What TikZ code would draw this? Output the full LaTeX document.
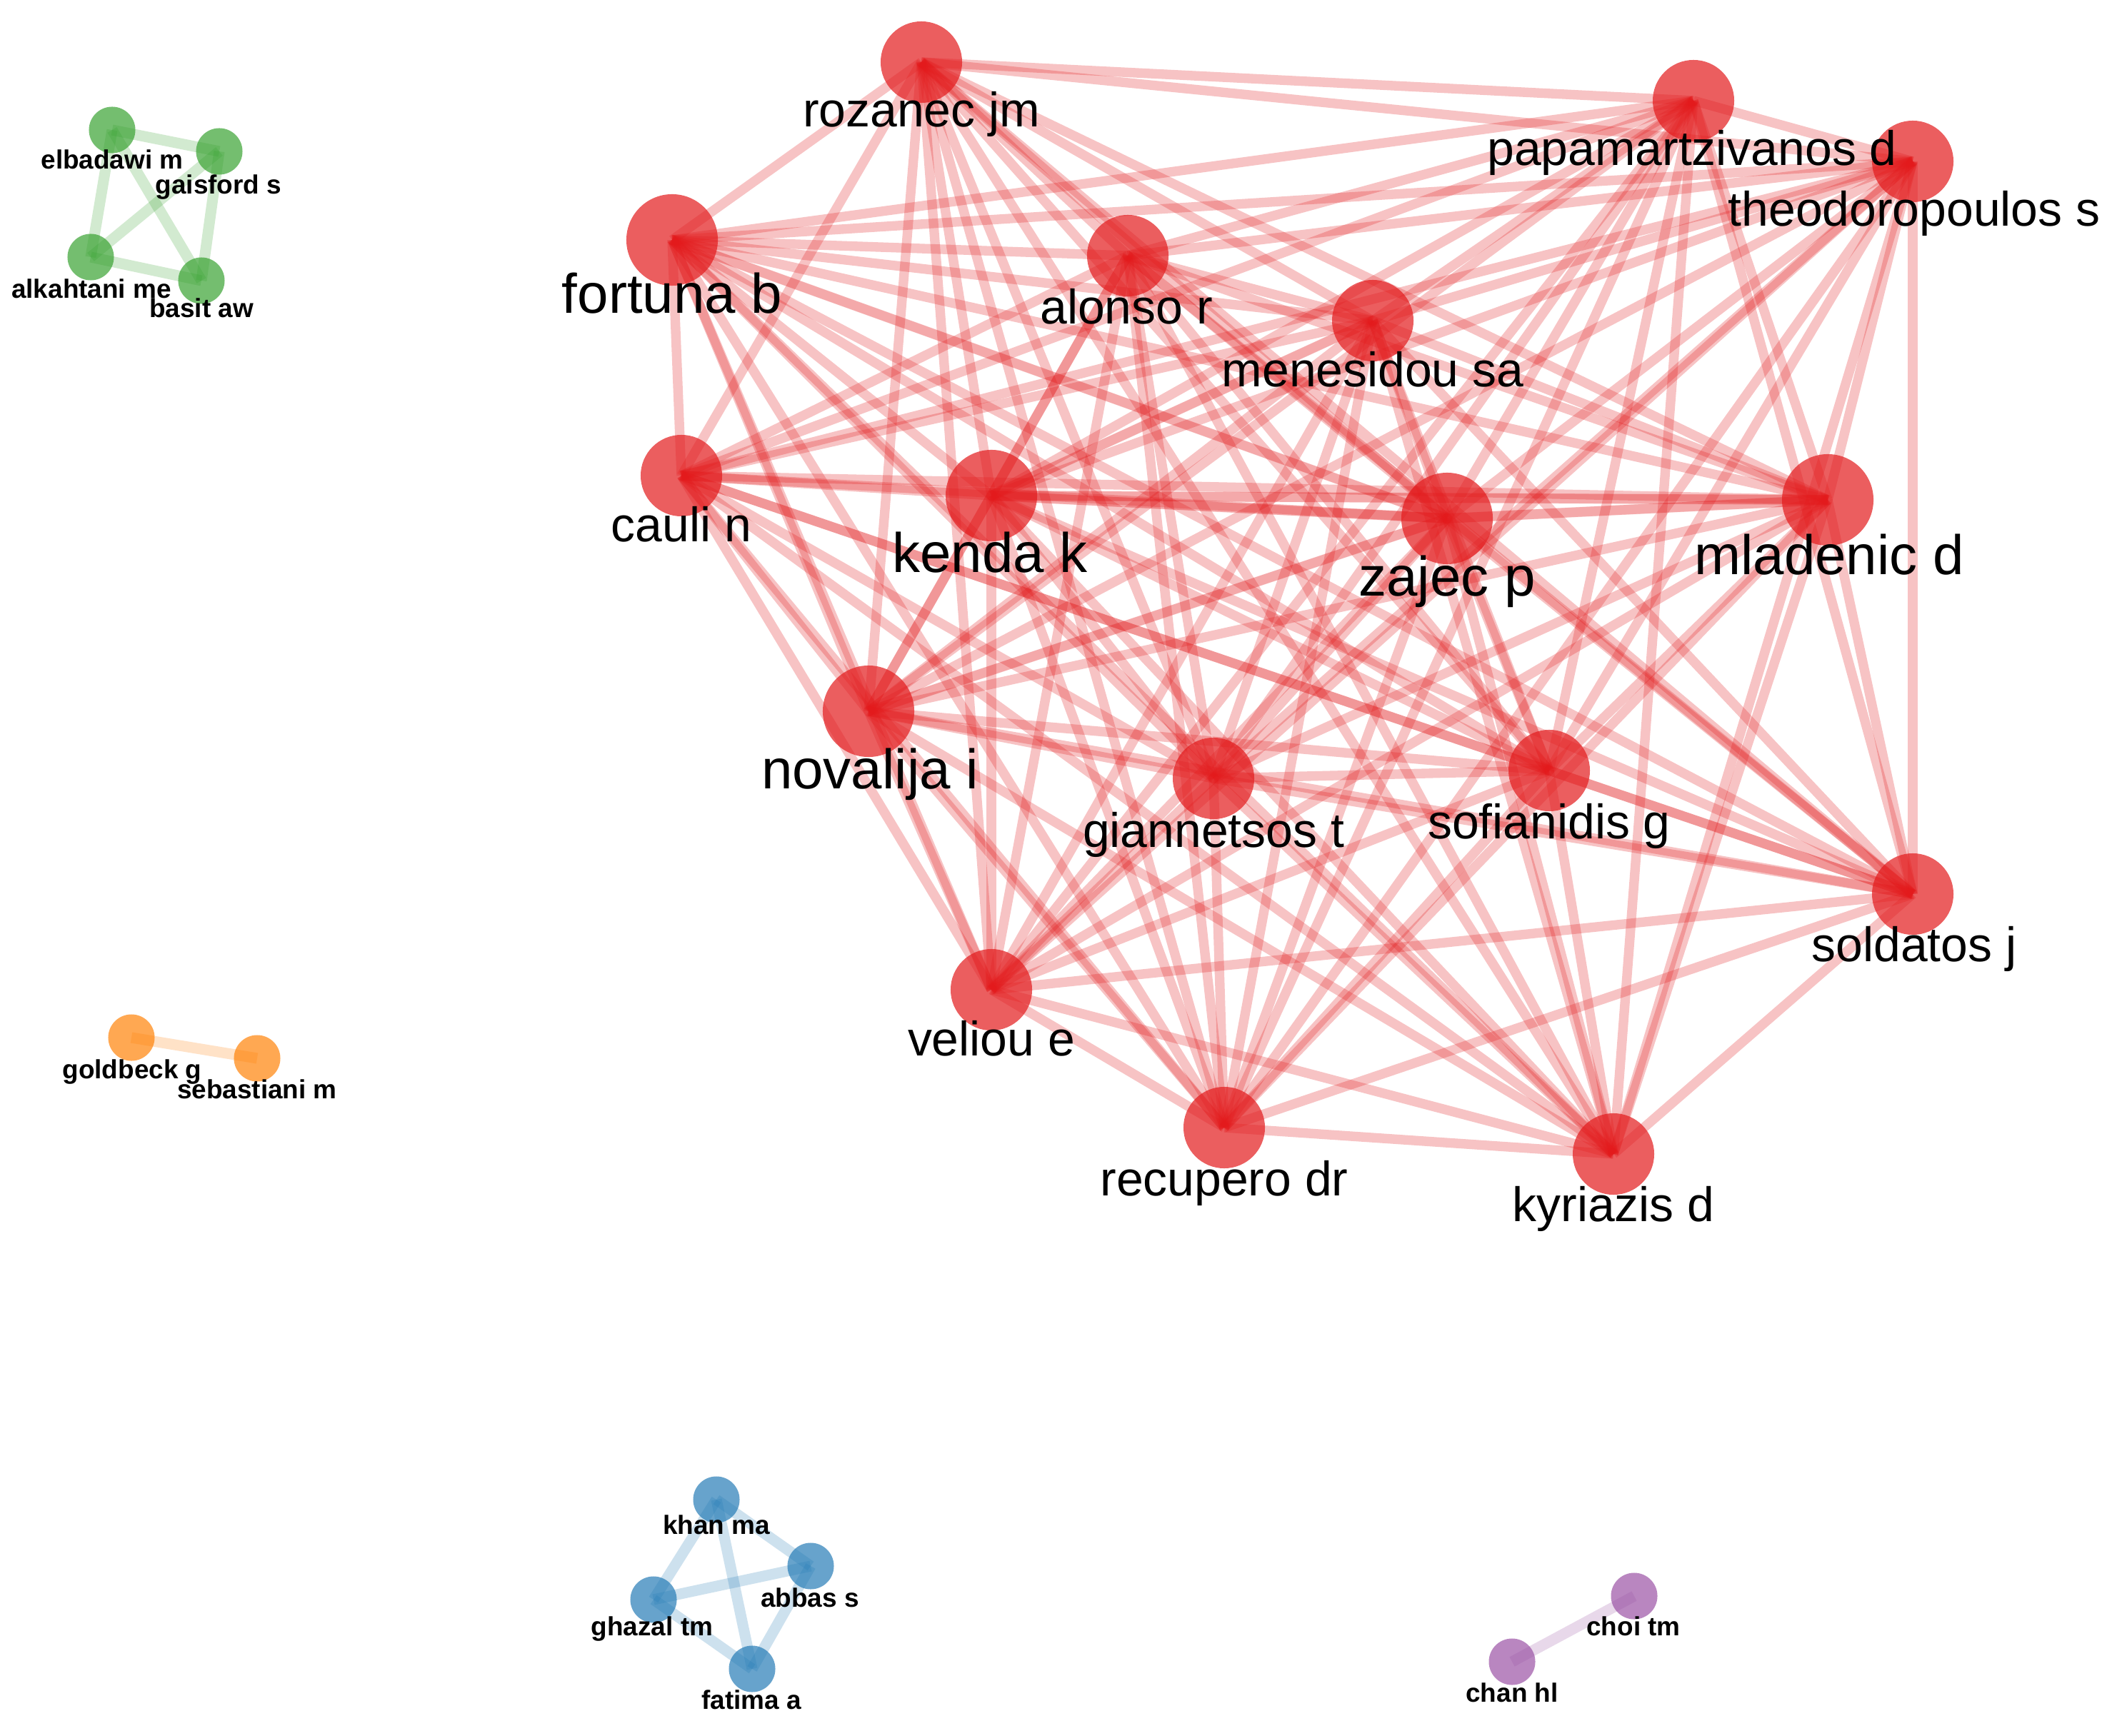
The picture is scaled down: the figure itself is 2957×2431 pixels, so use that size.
\documentclass[tikz,border=0pt]{standalone}
\usepackage{fontspec}
\setmainfont{Liberation Sans}
\definecolor{cred}{RGB}{227,26,28}
\definecolor{cgreen}{RGB}{51,160,44}
\definecolor{corange}{RGB}{255,127,0}
\definecolor{cblue}{RGB}{31,120,180}
\definecolor{cpurple}{RGB}{152,78,163}
\pgfdeclarelayer{bg}
\pgfdeclarelayer{paper}
\pgfsetlayers{paper,bg,main}
\tikzset{
  redn/.style={circle, fill=cred, fill opacity=0.7, minimum size=1.14cm, inner sep=0pt},
  bigred/.style={redn, minimum size=1.28cm},
  smalln/.style={circle, fill=#1, fill opacity=0.68, minimum size=0.65cm, inner sep=0pt},
  redlink/.style={draw=cred, draw opacity=0.26, line width=3.8pt},
  heavylink/.style={draw=cred, draw opacity=0.15, line width=4pt},
  smalllink/.style={draw=#1, draw opacity=0.22, line width=4.3pt},
  lab/.style={anchor=base, inner sep=0pt, font=\fontsize{19.3}{21}\selectfont},
  biglab/.style={anchor=base, inner sep=0pt, font=\fontsize{22.2}{24}\selectfont},
  smalllab/.style={anchor=base, inner sep=0pt, font=\bfseries\fontsize{10.5}{12}\selectfont},
}
\begin{document}
\begin{tikzpicture}[x=0.01cm, y=-0.01cm]
\begin{pgfonlayer}{paper}
\fill[white] (0,0) rectangle (2957,2431);
\end{pgfonlayer}
\useasboundingbox (0,0) rectangle (2957,2431);

% ---- red cluster nodes
\node[redn]   (rozanec)   at (1290,  87) {};
\node[redn]   (papamart)  at (2371, 141) {};
\node[redn]   (theodoro)  at (2678, 226) {};
\node[bigred] (fortuna)   at ( 941, 336) {};
\node[redn]   (alonso)    at (1579, 358) {};
\node[redn]   (menesidou) at (1922, 449) {};
\node[redn]   (cauli)     at ( 954, 666) {};
\node[bigred] (kenda)     at (1388, 694) {};
\node[bigred] (zajec)     at (2026, 726) {};
\node[bigred] (mladenic)  at (2559, 700) {};
\node[bigred] (novalija)  at (1216, 996) {};
\node[redn]   (giannetsos) at (1699,1090) {};
\node[redn]   (sofianidis) at (2169,1079) {};
\node[redn]   (soldatos)  at (2678,1252) {};
\node[redn]   (veliou)    at (1388,1386) {};
\node[redn]   (recupero)  at (1714,1579) {};
\node[redn]   (kyriazis)  at (2259,1616) {};

% ---- red cluster links (all pairs)
\begin{pgfonlayer}{bg}
\foreach \a [count=\i] in {rozanec,papamart,theodoro,fortuna,alonso,menesidou,cauli,kenda,zajec,mladenic,novalija,giannetsos,sofianidis,soldatos,veliou,recupero,kyriazis}{
  \foreach \b [count=\j] in {rozanec,papamart,theodoro,fortuna,alonso,menesidou,cauli,kenda,zajec,mladenic,novalija,giannetsos,sofianidis,soldatos,veliou,recupero,kyriazis}{
    \ifnum\j>\i \draw[redlink] (\a.center) -- (\b.center);\fi
  }
}
\draw[heavylink] (kenda.center) -- (zajec.center);
\draw[heavylink] (zajec.center) -- (mladenic.center);
\draw[heavylink] (kenda.center) -- (mladenic.center);
\draw[heavylink] (novalija.center) -- (zajec.center);
\draw[heavylink] (fortuna.center) -- (zajec.center);
\draw[heavylink] (kenda.center) -- (menesidou.center);
\end{pgfonlayer}

% ---- red labels
\node[lab]    (rozanec-l)   at (1290, 178) {rozanec jm};
\node[lab]    (papamart-l)  at (2369, 232) {papamartzivanos d};
\node[lab]    (theodoro-l)  at (2680, 317) {theodoropoulos s};
\node[biglab] (fortuna-l)   at ( 941, 439) {fortuna b};
\node[lab]    (alonso-l)    at (1577, 454) {alonso r};
\node[lab]    (menesidou-l) at (1922, 542) {menesidou sa};
\node[lab]    (cauli-l)     at ( 954, 759) {cauli n};
\node[biglab] (kenda-l)     at (1386, 801) {kenda k};
\node[biglab] (zajec-l)     at (2026, 835) {zajec p};
\node[biglab] (mladenic-l)  at (2561, 805) {mladenic d};
\node[biglab] (novalija-l)  at (1218,1104) {novalija i};
\node[lab]    (giannetsos-l) at (1699,1186) {giannetsos t};
\node[lab]    (sofianidis-l) at (2169,1174) {sofianidis g};
\node[lab]    (soldatos-l)  at (2680,1346) {soldatos j};
\node[lab]    (veliou-l)    at (1388,1478) {veliou e};
\node[lab]    (recupero-l)  at (1714,1674) {recupero dr};
\node[lab]    (kyriazis-l)  at (2259,1710) {kyriazis d};

% ---- green cluster
\node[smalln=cgreen] (elbadawi)  at (157, 182) {};
\node[smalln=cgreen] (gaisford)  at (307, 212) {};
\node[smalln=cgreen] (alkahtani) at (127, 360) {};
\node[smalln=cgreen] (basit)     at (282, 393) {};
\begin{pgfonlayer}{bg}
\draw[smalllink=cgreen] (elbadawi.center) -- (gaisford.center);
\draw[smalllink=cgreen] (elbadawi.center) -- (alkahtani.center);
\draw[smalllink=cgreen] (elbadawi.center) -- (basit.center);
\draw[smalllink=cgreen] (gaisford.center) -- (alkahtani.center);
\draw[smalllink=cgreen] (gaisford.center) -- (basit.center);
\draw[smalllink=cgreen] (alkahtani.center) -- (basit.center);
\end{pgfonlayer}
\node[smalllab] (elbadawi-l)  at (157, 237) {elbadawi m};
\node[smalllab] (gaisford-l)  at (306, 272) {gaisford s};
\node[smalllab] (alkahtani-l) at (128, 418) {alkahtani me};
\node[smalllab] (basit-l)     at (282, 445) {basit aw};

% ---- orange cluster
\node[smalln=corange] (goldbeck)   at (184,1453) {};
\node[smalln=corange] (sebastiani) at (360,1482) {};
\begin{pgfonlayer}{bg}
\draw[smalllink=corange] (goldbeck.center) -- (sebastiani.center);
\end{pgfonlayer}
\node[smalllab] (goldbeck-l)   at (185,1510) {goldbeck g};
\node[smalllab] (sebastiani-l) at (360,1538) {sebastiani m};

% ---- blue cluster
\node[smalln=cblue] (khan)   at (1003,2100) {};
\node[smalln=cblue] (abbas)  at (1135,2193) {};
\node[smalln=cblue] (ghazal) at ( 915,2240) {};
\node[smalln=cblue] (fatima) at (1053,2337) {};
\begin{pgfonlayer}{bg}
\draw[smalllink=cblue] (khan.center) -- (abbas.center);
\draw[smalllink=cblue] (khan.center) -- (ghazal.center);
\draw[smalllink=cblue] (khan.center) -- (fatima.center);
\draw[smalllink=cblue] (abbas.center) -- (ghazal.center);
\draw[smalllink=cblue] (abbas.center) -- (fatima.center);
\draw[smalllink=cblue] (ghazal.center) -- (fatima.center);
\end{pgfonlayer}
\node[smalllab] (khan-l)   at (1003,2148) {khan ma};
\node[smalllab] (abbas-l)  at (1134,2250) {abbas s};
\node[smalllab] (ghazal-l) at ( 913,2290) {ghazal tm};
\node[smalllab] (fatima-l) at (1052,2393) {fatima a};

% ---- purple cluster
\node[smalln=cpurple] (choi) at (2288,2235) {};
\node[smalln=cpurple] (chan) at (2117,2327) {};
\begin{pgfonlayer}{bg}
\draw[smalllink=cpurple] (choi.center) -- (chan.center);
\end{pgfonlayer}
\node[smalllab] (choi-l) at (2287,2290) {choi tm};
\node[smalllab] (chan-l) at (2117,2383) {chan hl};
\end{tikzpicture}
\end{document}
